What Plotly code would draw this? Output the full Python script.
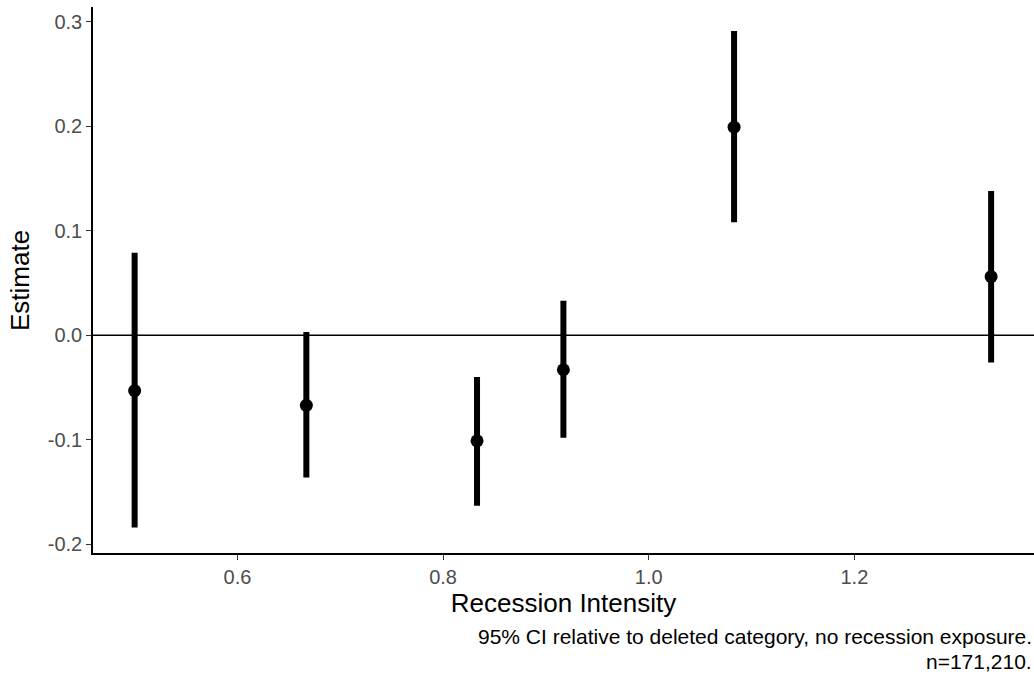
import plotly.graph_objects as go

intensity = [0.5, 0.667, 0.833, 0.917, 1.083, 1.333]
estimate = [-0.053, -0.067, -0.101, -0.033, 0.199, 0.056]
ci_low = [-0.184, -0.136, -0.163, -0.098, 0.108, -0.026]
ci_high = [0.079, 0.003, -0.040, 0.033, 0.291, 0.138]

x_ticks = [0.6, 0.8, 1.0, 1.2]
y_ticks = [-0.2, -0.1, 0.0, 0.1, 0.2, 0.3]
caption_lines = ["95% CI relative to deleted category, no recession exposure.", "n=171,210."]

err_plus = [h - e for h, e in zip(ci_high, estimate)]
err_minus = [e - l for e, l in zip(estimate, ci_low)]

fig = go.Figure()
fig.add_hline(y=0, line=dict(color="black", width=1.6), layer="below")
fig.add_trace(go.Scatter(
    x=intensity, y=estimate, mode="markers",
    marker=dict(color="black", size=13),
    error_y=dict(type="data", symmetric=False, array=err_plus, arrayminus=err_minus,
                 color="black", thickness=6, width=0),
    showlegend=False,
))

font_family = "Liberation Sans, Arial, sans-serif"
annotations = [
    dict(text="Estimate", xref="paper", yref="paper", x=-0.0776, y=0.5,
         xanchor="center", yanchor="middle", textangle=-90, showarrow=False,
         font=dict(size=26, color="black")),
]
for txt, ypix in zip(caption_lines, [636, 661]):
    annotations.append(dict(
        text=txt, xref="paper", yref="paper", x=1.0, y=(553 - ypix) / 546,
        xanchor="right", yanchor="middle", align="right", showarrow=False,
        font=dict(size=21, color="black"),
    ))

fig.update_layout(
    width=1034, height=681,
    margin=dict(l=93, r=0, t=7, b=128),
    paper_bgcolor="white", plot_bgcolor="white",
    font=dict(family=font_family, color="black"),
    xaxis=dict(
        range=[0.4595, 1.3747], tickvals=x_ticks, ticktext=["0.6", "0.8", "1.0", "1.2"],
        showgrid=False, zeroline=False, showline=True, linecolor="black", linewidth=1.6,
        ticks="outside", ticklen=5, tickwidth=1.2, tickcolor="#333333",
        tickfont=dict(size=20, color="#4d4d4d"),
        title=dict(text="Recession Intensity", font=dict(size=26, color="black"), standoff=4),
    ),
    yaxis=dict(
        range=[-0.2083, 0.314], tickvals=y_ticks, ticktext=["-0.2", "-0.1", "0.0", "0.1", "0.2", "0.3"],
        showgrid=False, zeroline=False, showline=True, linecolor="black", linewidth=1.6,
        ticks="outside", ticklen=5, tickwidth=1.2, tickcolor="#333333",
        tickfont=dict(size=20, color="#4d4d4d"),
    ),
    annotations=annotations,
)

fig.write_html("out.html")
